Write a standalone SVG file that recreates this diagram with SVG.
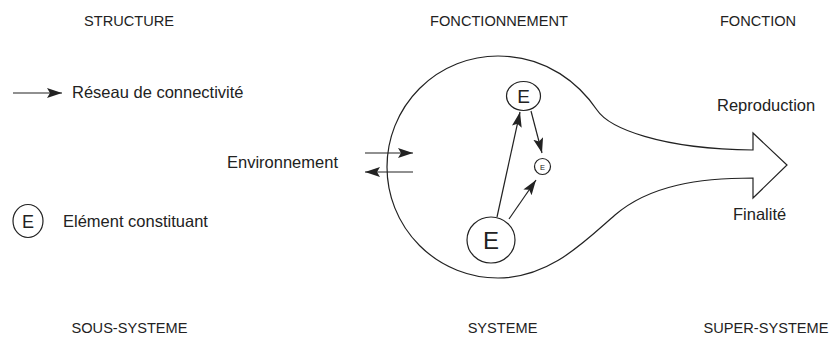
<svg xmlns="http://www.w3.org/2000/svg" width="829" height="338" viewBox="0 0 829 338">
  <style>
    .cap { font-family: "Liberation Sans", Arial, sans-serif; font-size: 14.6px; fill: #222; text-anchor: middle; }
    .lbl { font-family: "Liberation Sans", Arial, sans-serif; font-size: 16.5px; fill: #222; }
    .node { fill: #fff; stroke: #222; stroke-width: 1.2; }
    .blob { fill: none; stroke: #222; stroke-width: 1.2; }
    .edge { fill: none; stroke: #222; stroke-width: 1.2; marker-end: url(#ah); }
    .etxt { font-family: "Liberation Sans", Arial, sans-serif; fill: #222; text-anchor: middle; }
  </style>
  <defs>
    <marker id="ah" markerUnits="userSpaceOnUse" markerWidth="16" markerHeight="12" refX="15" refY="5" orient="auto">
      <path d="M0,0 L15,5 L0,10 L3,5 Z" fill="#222"/>
    </marker>
  </defs>
  <rect width="829" height="338" fill="#fff"/>

  <g id="headers">
    <text class="cap" x="129" y="26">STRUCTURE</text>
    <text class="cap" x="499" y="26">FONCTIONNEMENT</text>
    <text class="cap" x="758" y="26">FONCTION</text>
    <text class="cap" x="129.5" y="333">SOUS-SYSTEME</text>
    <text class="cap" x="502.5" y="333">SYSTEME</text>
    <text class="cap" x="766" y="333">SUPER-SYSTEME</text>
  </g>

  <g id="legend">
    <text class="lbl" x="72" y="98">Réseau de connectivité</text>
    <ellipse class="node" cx="28" cy="221" rx="15" ry="16.5"/>
    <text class="etxt" x="28" y="228" font-size="18">E</text>
    <text class="lbl" x="63" y="227">Elément constituant</text>
  </g>

  <g id="systeme">
    <path class="blob" d="M498,56 C548,56 580,85 597,110 C609,128 660,149 753,150 L753,133 L787,165 L753,198 L753,178 C700,178 650,185 615,215 C585,241 550,278 498,278 A111,111 0 0 1 498,56 Z"/>
  </g>

  <g id="labels">
    <text class="lbl" x="227" y="168">Environnement</text>
    <text class="lbl" x="717" y="111">Reproduction</text>
    <text class="lbl" x="733" y="220">Finalité</text>
  </g>

  <g id="connectors">
    <line class="edge" x1="13" y1="93" x2="62" y2="93"/>
    <line class="edge" x1="365" y1="153" x2="413" y2="153"/>
    <line class="edge" x1="413" y1="172" x2="365" y2="172"/>
    <line class="edge" x1="497" y1="217" x2="520" y2="112"/>
    <line class="edge" x1="509" y1="219" x2="536" y2="180"/>
    <line class="edge" x1="531" y1="111" x2="542" y2="153"/>
  </g>

  <g id="node-e-top">
    <ellipse class="node" cx="523.5" cy="96" rx="17" ry="14.5"/>
    <text class="etxt" x="523.5" y="103" font-size="19">E</text>
  </g>
  <g id="node-e-small">
    <circle class="node" cx="542.5" cy="166.5" r="8"/>
    <text class="etxt" x="542.5" y="169.5" font-size="7.5">E</text>
  </g>
  <g id="node-e-big">
    <ellipse class="node" cx="491" cy="240" rx="24" ry="23"/>
    <text class="etxt" x="491" y="249" font-size="24">E</text>
  </g>
</svg>
